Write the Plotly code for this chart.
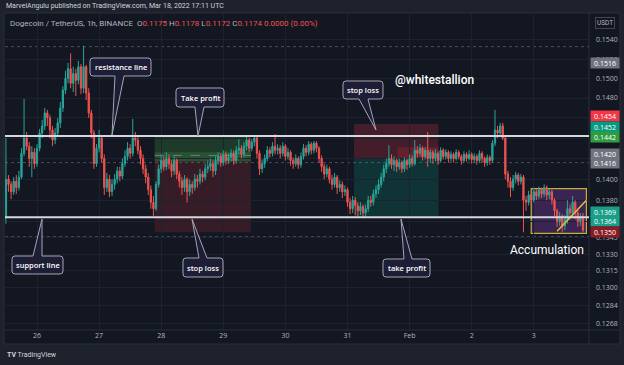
import math
import pandas as pd
import plotly.graph_objects as go

# ---------------- DATA (prices in units of 0.0001 USDT) ----------------
START = "2022-01-25 12:00"
FIRST_OPEN = 1364
CLOSE = [
    1400, 1395, 1388, 1398, 1392, 1402, 1425, 1440, 1432, 1420,
    1426, 1415, 1430, 1445, 1452, 1465, 1460, 1448, 1438, 1445,
    1455, 1470, 1488, 1500, 1510, 1495, 1505, 1498, 1512, 1490,
    1512, 1485, 1465, 1445, 1415, 1430, 1440, 1420, 1392, 1400,
    1388, 1395, 1400, 1408, 1403, 1415, 1422, 1430, 1425, 1440,
    1438, 1428, 1420, 1410, 1402, 1390, 1378, 1372, 1395, 1410,
    1418, 1412, 1420, 1415, 1408, 1418, 1405, 1398, 1392, 1400,
    1388, 1395, 1392, 1400, 1398, 1405, 1402, 1410, 1412, 1415,
    1408, 1418, 1422, 1416, 1424, 1418, 1421, 1425, 1418, 1428,
    1430, 1424, 1432, 1438, 1430, 1436, 1440, 1425, 1410, 1415,
    1420, 1428, 1425, 1432, 1428, 1430, 1425, 1432, 1422, 1426,
    1418, 1415, 1420, 1414, 1422, 1430, 1426, 1434, 1428, 1435,
    1430, 1420, 1412, 1405, 1410, 1400, 1395, 1402, 1392, 1395,
    1388, 1390, 1378, 1372, 1380, 1375, 1370, 1374, 1368, 1372,
    1380, 1378, 1386, 1390, 1395, 1402, 1410, 1415, 1420, 1414,
    1418, 1412, 1416, 1410, 1418, 1414, 1420, 1415, 1428, 1425,
    1430, 1422, 1428, 1420, 1426, 1420, 1425, 1418, 1428, 1422,
    1426, 1420, 1424, 1420, 1426, 1422, 1418, 1424, 1420, 1424,
    1419, 1422, 1418, 1425, 1420, 1416, 1421, 1418, 1435, 1448,
    1445, 1452, 1440, 1405, 1398, 1392, 1400, 1404, 1398, 1402,
    1380, 1378, 1385, 1380, 1388, 1384, 1390, 1386, 1392, 1385,
    1388, 1380, 1370, 1360, 1365, 1356, 1362, 1372, 1368, 1378,
    1368, 1360, 1365, 1352,
]
HIGH = [
    1440, 1404, 1398, 1402, 1404, 1408, 1430, 1479, 1446, 1436,
    1432, 1430, 1434, 1449, 1458, 1470, 1468, 1463, 1452, 1450,
    1460, 1476, 1492, 1508, 1516, 1526, 1512, 1510, 1518, 1515,
    1534, 1514, 1490, 1468, 1448, 1434, 1448, 1442, 1424, 1406,
    1404, 1400, 1405, 1412, 1412, 1420, 1428, 1436, 1434, 1459,
    1446, 1442, 1432, 1424, 1414, 1406, 1394, 1384, 1398, 1414,
    1424, 1422, 1426, 1424, 1418, 1422, 1420, 1408, 1402, 1404,
    1402, 1400, 1398, 1405, 1404, 1410, 1408, 1415, 1418, 1420,
    1418, 1422, 1426, 1425, 1428, 1427, 1425, 1429, 1428, 1432,
    1439, 1433, 1436, 1441, 1440, 1439, 1442, 1442, 1428, 1419,
    1424, 1432, 1431, 1436, 1444, 1434, 1433, 1436, 1434, 1430,
    1428, 1421, 1424, 1422, 1426, 1434, 1433, 1437, 1436, 1437,
    1437, 1432, 1423, 1415, 1414, 1412, 1404, 1406, 1404, 1399,
    1398, 1394, 1392, 1382, 1384, 1383, 1378, 1378, 1376, 1376,
    1384, 1384, 1390, 1394, 1400, 1406, 1414, 1420, 1433, 1424,
    1422, 1420, 1420, 1418, 1421, 1420, 1424, 1423, 1438, 1432,
    1434, 1432, 1431, 1446, 1429, 1428, 1429, 1427, 1431, 1430,
    1429, 1428, 1427, 1426, 1429, 1428, 1424, 1427, 1426, 1428,
    1426, 1425, 1424, 1428, 1427, 1422, 1424, 1423, 1438, 1468,
    1452, 1455, 1455, 1442, 1408, 1402, 1404, 1407, 1406, 1405,
    1404, 1384, 1389, 1388, 1392, 1390, 1393, 1392, 1395, 1394,
    1391, 1390, 1382, 1372, 1369, 1367, 1366, 1380, 1376, 1384,
    1380, 1372, 1368, 1368,
]
LOW = [
    1358, 1388, 1381, 1385, 1386, 1389, 1400, 1422, 1428, 1412,
    1402, 1410, 1412, 1427, 1440, 1448, 1452, 1440, 1432, 1434,
    1441, 1450, 1466, 1484, 1495, 1490, 1486, 1482, 1494, 1484,
    1485, 1478, 1460, 1440, 1410, 1412, 1426, 1416, 1385, 1388,
    1383, 1384, 1390, 1396, 1398, 1400, 1412, 1418, 1420, 1422,
    1432, 1424, 1414, 1405, 1396, 1385, 1372, 1365, 1370, 1392,
    1406, 1408, 1409, 1410, 1402, 1404, 1400, 1392, 1385, 1388,
    1378, 1384, 1386, 1389, 1392, 1395, 1397, 1399, 1406, 1408,
    1402, 1404, 1414, 1412, 1413, 1414, 1415, 1417, 1414, 1415,
    1424, 1420, 1421, 1428, 1426, 1427, 1432, 1420, 1404, 1406,
    1411, 1417, 1421, 1422, 1424, 1424, 1420, 1422, 1418, 1419,
    1413, 1410, 1412, 1410, 1411, 1419, 1422, 1423, 1424, 1425,
    1426, 1416, 1407, 1400, 1402, 1396, 1390, 1392, 1386, 1388,
    1382, 1384, 1374, 1367, 1368, 1366, 1365, 1366, 1364, 1365,
    1369, 1374, 1375, 1382, 1386, 1392, 1398, 1406, 1412, 1410,
    1408, 1407, 1409, 1406, 1407, 1409, 1411, 1412, 1413, 1421,
    1422, 1418, 1419, 1412, 1416, 1415, 1417, 1414, 1416, 1419,
    1419, 1416, 1417, 1416, 1418, 1419, 1414, 1416, 1417, 1418,
    1415, 1416, 1414, 1416, 1416, 1412, 1413, 1414, 1416, 1432,
    1440, 1442, 1438, 1400, 1392, 1383, 1389, 1396, 1394, 1395,
    1350, 1370, 1375, 1376, 1378, 1380, 1381, 1382, 1383, 1380,
    1381, 1376, 1365, 1355, 1356, 1350, 1352, 1358, 1362, 1364,
    1362, 1355, 1356, 1350,
]
DAY_TICKS = ["2022-01-26", "2022-01-27", "2022-01-28", "2022-01-29", "2022-01-30",
             "2022-01-31", "2022-02-01", "2022-02-02", "2022-02-03"]
DAY_LABELS = ["26", "27", "28", "29", "30", "31", "Feb", "2", "3"]
PRICE_TICKS = [0.1268, 0.1284, 0.1300, 0.1315, 0.1330, 0.1345, 0.1360, 0.1380, 0.1400,
               0.1420, 0.1440, 0.1460, 0.1480, 0.1500, 0.1520, 0.1540]
HIDDEN_TICKS = [0.1360, 0.1420, 0.1440, 0.1460]   # covered by price labels in the original
RESISTANCE = 0.1442
SUPPORT = 0.1364
DOTTED_LEVELS = [0.1533, 0.1416, 0.1346]
LONG_POS = dict(t0="2022-01-27 21:30", t1="2022-01-29 10:40", tp=0.1443, entry=0.1417, sl=0.1350, pnl=0.1426)
SHORT_POS = dict(t0="2022-01-31 02:30", t1="2022-02-01 11:10", sl=0.1454, entry=0.1420, tp=0.1365,
                 pnl_t0="2022-01-31 19:20", pnl=0.1431)
ACCUM = dict(t0="2022-02-02 23:00", t1="2022-02-03 20:20", top=0.1391, bottom=0.1349)
ACCUM_LINE = dict(t0="2022-02-03 09:00", p0=0.1351, t1="2022-02-03 20:20", p1=0.1380)
PRICE_LABELS = [  # value, colour, vertical nudge (px) used by TradingView to avoid overlap
    ("0.1516", "#70737e", 0), ("0.1454", "#f23645", 8), ("0.1452", "#089981", -1),
    ("0.1442", "#2e9d3f", -1), ("0.1420", "#70737e", 4), ("0.1416", "#70737e", 0),
    ("0.1369", "#1a9e8a", 0), ("0.1364", "#1a9e8a", -4), ("0.1350", "#8a1c24", 0),
]

# ---------------- build ----------------
scale = 10000.0
close = [c / scale for c in CLOSE]
high = [h / scale for h in HIGH]
low = [l / scale for l in LOW]
opens = [FIRST_OPEN / scale] + close[:-1]
times = pd.date_range(START, periods=len(close), freq="h")

W, H = 624, 365
PL, PR, PT, PB = 5, 589, 13, 330  # plot area in pixels
FONT = "Roboto"


def px(x):
    return (x - PL) / (PR - PL)


def py(y):
    return (PB - y) / (PB - PT)


fig = go.Figure()
fig.add_trace(go.Candlestick(
    x=times, open=opens, high=high, low=low, close=close,
    increasing=dict(line=dict(color="#26a69a", width=1), fillcolor="#26a69a"),
    decreasing=dict(line=dict(color="#ef5350", width=1), fillcolor="#ef5350"),
    showlegend=False, hoverinfo="skip",
))

shapes = []
annotations = []

# outer panel
shapes.append(dict(type="rect", xref="paper", yref="paper", x0=px(4), x1=px(620), y0=py(13), y1=py(344),
                   fillcolor="#131722", line=dict(color="#2a2e39", width=1), layer="below"))
# separators
shapes.append(dict(type="line", xref="paper", yref="paper", x0=px(589), x1=px(589), y0=py(13), y1=py(344),
                   line=dict(color="#2a2e39", width=1), layer="above"))
shapes.append(dict(type="line", xref="paper", yref="paper", x0=px(4), x1=px(620), y0=py(330), y1=py(330),
                   line=dict(color="#2a2e39", width=1), layer="above"))

# dotted levels
for lv in DOTTED_LEVELS:
    shapes.append(dict(type="line", xref="paper", yref="y", x0=0, x1=1, y0=lv, y1=lv,
                       line=dict(color="#4a4e5a", width=1, dash="dot"), layer="below"))

# long position tool
L = LONG_POS
shapes += [
    dict(type="rect", xref="x", yref="y", x0=L["t0"], x1=L["t1"], y0=L["entry"], y1=L["tp"],
         fillcolor="rgba(60,150,60,0.28)", line=dict(width=0), layer="below"),
    dict(type="rect", xref="x", yref="y", x0=L["t0"], x1=L["t1"], y0=L["entry"], y1=L["pnl"],
         fillcolor="rgba(80,170,80,0.22)", line=dict(width=0), layer="below"),
    dict(type="rect", xref="x", yref="y", x0=L["t0"], x1=L["t1"], y0=L["sl"], y1=L["entry"],
         fillcolor="rgba(242,54,69,0.16)", line=dict(width=0), layer="below"),
    dict(type="line", xref="x", yref="y", x0=L["t0"], x1=L["t1"], y0=L["pnl"] - 0.0003, y1=L["pnl"] - 0.0003,
         line=dict(color="rgba(160,160,170,0.6)", width=1, dash="dash"), layer="below"),
]
# short position tool
S = SHORT_POS
shapes += [
    dict(type="rect", xref="x", yref="y", x0=S["t0"], x1=S["t1"], y0=S["entry"], y1=S["sl"],
         fillcolor="rgba(242,54,69,0.22)", line=dict(width=0), layer="below"),
    dict(type="rect", xref="x", yref="y", x0=S["pnl_t0"], x1=S["t1"], y0=S["entry"], y1=S["pnl"],
         fillcolor="rgba(242,54,69,0.18)", line=dict(width=0), layer="below"),
    dict(type="rect", xref="x", yref="y", x0=S["t0"], x1=S["t1"], y0=S["tp"], y1=S["entry"],
         fillcolor="rgba(8,153,129,0.22)", line=dict(width=0), layer="below"),
    dict(type="line", xref="x", yref="y", x0=S["t0"], x1=S["t1"], y0=S["entry"], y1=S["entry"],
         line=dict(color="rgba(160,160,170,0.5)", width=1), layer="below"),
]
# accumulation box
A = ACCUM
shapes.append(dict(type="rect", xref="x", yref="y", x0=A["t0"], x1=A["t1"], y0=A["bottom"], y1=A["top"],
                   fillcolor="rgba(126,60,170,0.36)", line=dict(color="#c4b03a", width=1.2), layer="below"))
AL = ACCUM_LINE
shapes.append(dict(type="line", xref="x", yref="y", x0=AL["t0"], x1=AL["t1"], y0=AL["p0"], y1=AL["p1"],
                   line=dict(color="#e0c040", width=1.5), layer="above"))

# support / resistance
for lv in (RESISTANCE, SUPPORT):
    shapes.append(dict(type="line", xref="paper", yref="y", x0=0, x1=1, y0=lv, y1=lv,
                       line=dict(color="#d6d8de", width=2), layer="above"))


# callouts
def callout(text, x0, y0, x1, y1, b1, b2, tx, ty, side):
    r = 3

    def P(x, y):
        return f"{px(x):.5f},{py(y):.5f}"
    if side == "bottom":
        d = (f"M{P(x0 + r, y0)} L{P(x1 - r, y0)} Q{P(x1, y0)} {P(x1, y0 + r)} L{P(x1, y1 - r)} "
             f"Q{P(x1, y1)} {P(x1 - r, y1)} L{P(b2, y1)} L{P(tx, ty)} L{P(b1, y1)} L{P(x0 + r, y1)} "
             f"Q{P(x0, y1)} {P(x0, y1 - r)} L{P(x0, y0 + r)} Q{P(x0, y0)} {P(x0 + r, y0)} Z")
    else:
        d = (f"M{P(x0 + r, y0)} L{P(b1, y0)} L{P(tx, ty)} L{P(b2, y0)} L{P(x1 - r, y0)} "
             f"Q{P(x1, y0)} {P(x1, y0 + r)} L{P(x1, y1 - r)} Q{P(x1, y1)} {P(x1 - r, y1)} "
             f"L{P(x0 + r, y1)} Q{P(x0, y1)} {P(x0, y1 - r)} L{P(x0, y0 + r)} Q{P(x0, y0)} {P(x0 + r, y0)} Z")
    shapes.append(dict(type="path", xref="paper", yref="paper", path=d,
                       fillcolor="#1d1e35", line=dict(color="#a3a6b4", width=1), layer="above"))
    annotations.append(dict(xref="paper", yref="paper", x=px((x0 + x1) / 2), y=py((y0 + y1) / 2),
                            text=text, showarrow=False, xanchor="center", yanchor="middle",
                            font=dict(family="Open Sans", size=7.5, color="#ffffff", weight=600)))


callout("resistance line", 90, 58, 151, 76, 115, 124, 112, 135, "bottom")
callout("Take profit", 176, 88, 224, 107, 195, 204, 198, 136, "bottom")
callout("stop loss", 343, 81, 383, 99, 359, 368, 376, 130, "bottom")
callout("support line", 12, 256, 63, 274, 33, 42, 42, 219, "top")
callout("stop loss", 183, 258, 223, 277, 199, 207, 192, 219, "top")
callout("take profit", 383, 259, 430, 277, 404, 412, 401, 219, "top")

# big texts
annotations.append(dict(xref="paper", yref="paper", x=px(434), y=py(80), text="@whitestallion",
                        showarrow=False, xanchor="center", yanchor="middle",
                        font=dict(family=FONT, size=12, color="#ffffff", weight=500)))
annotations.append(dict(xref="paper", yref="paper", x=px(547), y=py(250), text="Accumulation",
                        showarrow=False, xanchor="center", yanchor="middle",
                        font=dict(family=FONT, size=12, color="#ffffff")))

# header and legend
annotations.append(dict(xref="paper", yref="paper", x=px(4), y=py(6.5), xanchor="left", yanchor="middle",
                        text="MarvelAngulu published on TradingView.com, Mar 18, 2022 17:11 UTC",
                        showarrow=False, font=dict(family=FONT, size=7, color="#d1d4dc")))
red = "#ef5350"
legend_txt = ("Dogecoin / TetherUS, 1h, BINANCE  O<span style='color:%s'>0.1175</span> "
              "H<span style='color:%s'>0.1178</span> L<span style='color:%s'>0.1172</span> "
              "C<span style='color:%s'>0.1174</span> <span style='color:%s'>0.0000 (0.00%%)</span>"
              % (red, red, red, red, red))
annotations.append(dict(xref="paper", yref="paper", x=px(8), y=py(23), xanchor="left", yanchor="middle",
                        text=legend_txt, showarrow=False,
                        font=dict(family=FONT, size=8, color="#b2b5be")))
# USDT box
annotations.append(dict(xref="paper", yref="paper", x=px(605), y=py(23), xanchor="center", yanchor="middle",
                        text="USDT", showarrow=False, bordercolor="#434651", borderwidth=1, borderpad=1,
                        font=dict(family=FONT, size=6.5, color="#b2b5be")))
# TradingView footer
annotations.append(dict(xref="paper", yref="paper", x=px(5), y=py(354.5), xanchor="left", yanchor="middle",
                        text="<b>TV</b> TradingView", showarrow=False,
                        font=dict(family=FONT, size=7, color="#d1d4dc")))

# price labels on the scale
for txt, col, nudge in PRICE_LABELS:
    val = float(txt)
    annotations.append(dict(xref="paper", yref="y", x=px(590), y=math.log10(val), yshift=nudge,
                            xanchor="left", yanchor="middle", text=txt, showarrow=False,
                            bgcolor=col, width=27, height=9, borderpad=0.5, align="center",
                            font=dict(family="Open Sans", size=7, color="#ffffff")))

tick_text = ["" if v in HIDDEN_TICKS else f"{v:.4f}" for v in PRICE_TICKS]

fig.update_layout(
    width=W, height=H,
    margin=dict(l=PL, r=W - PR, t=PT, b=H - PB),
    paper_bgcolor="#1e222d", plot_bgcolor="#131722",
    shapes=shapes, annotations=annotations,
    showlegend=False,
    xaxis=dict(
        type="date", range=["2022-01-25 11:38", "2022-02-03 21:20"],
        rangeslider=dict(visible=False),
        tickvals=DAY_TICKS, ticktext=DAY_LABELS,
        showgrid=True, gridcolor="#1d2130", gridwidth=1, zeroline=False,
        ticks="", showline=False,
        tickfont=dict(family="Open Sans", size=7, color="#b2b5be"),
    ),
    yaxis=dict(
        type="log", side="right",
        range=[math.log10(0.12627), math.log10(0.15687)],
        tickvals=PRICE_TICKS, ticktext=tick_text,
        showgrid=True, gridcolor="#1d2130", gridwidth=1, zeroline=False,
        ticks="", showline=False, ticklabelstandoff=6,
        tickfont=dict(family="Open Sans", size=7, color="#b2b5be"),
    ),
)

fig.write_html("out.html", config={"displayModeBar": False},
               post_script="document.body.style.margin='0px';document.body.style.overflow='hidden';")
